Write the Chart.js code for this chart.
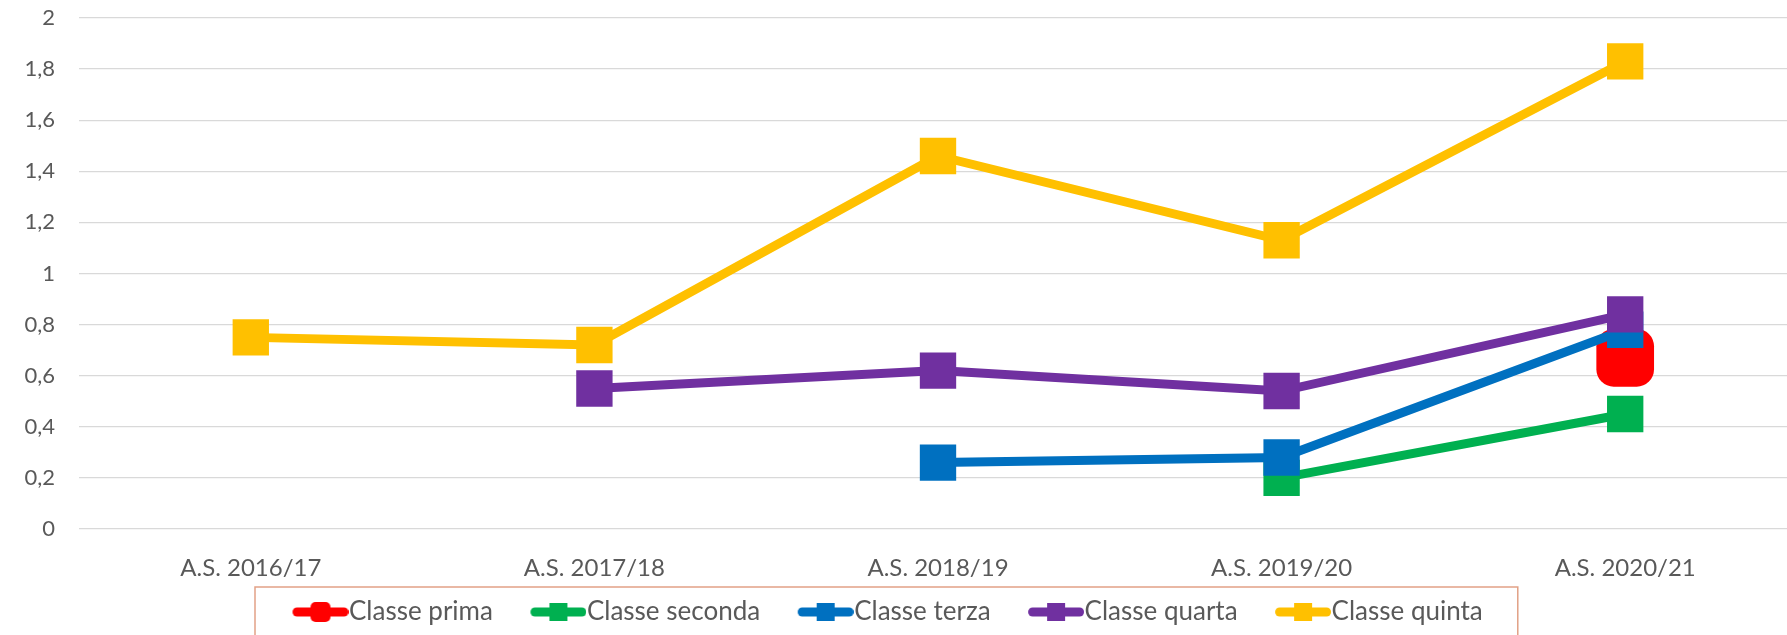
<!DOCTYPE html>
<html>
<head>
<meta charset="utf-8">
<script src="https://cdn.jsdelivr.net/npm/chart.js@4.4.0/dist/chart.umd.min.js"></script>
<style>
  html, body { margin: 0; padding: 0; background: #fff; overflow: hidden; }
  #chart { display: block; }
</style>
</head>
<body>
<canvas id="chart" width="1797" height="635"></canvas>
<script>
const categories = ['A.S. 2016/17', 'A.S. 2017/18', 'A.S. 2018/19', 'A.S. 2019/20', 'A.S. 2020/21'];
const classePrima = [null, null, null, null, 0.67];
const classeSeconda = [null, null, null, 0.20, 0.45];
const classeTerza = [null, null, 0.26, 0.28, 0.78];
const classeQuarta = [null, 0.55, 0.62, 0.54, 0.84];
const classeQuinta = [0.75, 0.72, 1.46, 1.13, 1.83];
const yTickLabels = ['0', '0,2', '0,4', '0,6', '0,8', '1', '1,2', '1,4', '1,6', '1,8', '2'];

const seriesNames = ['Classe prima', 'Classe seconda', 'Classe terza', 'Classe quarta', 'Classe quinta'];
const seriesColors = ['#FF0000', '#00B050', '#0070C0', '#7030A0', '#FFC000'];
const seriesValues = [classePrima, classeSeconda, classeTerza, classeQuarta, classeQuinta];

// legend symbol: line with marker, drawn at the right of a wider transparent canvas
function legendSymbol(color, rounded) {
  const c = document.createElement('canvas');
  c.width = 96; c.height = 24;
  const g = c.getContext('2d');
  g.strokeStyle = color;
  g.fillStyle = color;
  g.lineWidth = 9;
  g.lineCap = 'round';
  g.beginPath();
  g.moveTo(44.5, 12); g.lineTo(91.5, 12);
  g.stroke();
  g.beginPath();
  if (rounded) g.roundRect(58, 2, 20, 20, 5);
  else g.rect(59, 3, 18, 18);
  g.fill();
  return c;
}
const symbols = seriesColors.map((c, i) => legendSymbol(c, i === 0));

const legendFrame = {
  id: 'legendFrame',
  afterLayout(chart) {
    chart.legend.left = 255;
  },
  afterDraw(chart) {
    const lg = chart.legend;
    const ctx = chart.ctx;
    const right = lg.left + lg.lineWidths[0] + 35;
    ctx.save();
    ctx.strokeStyle = '#E2A186';
    ctx.lineWidth = 1.5;
    ctx.strokeRect(lg.left, lg.top - 2, right - lg.left, 80);
    ctx.restore();
  }
};

new Chart(document.getElementById('chart'), {
  type: 'line',
  data: {
    labels: categories,
    datasets: seriesValues.map((vals, i) => ({
      label: seriesNames[i],
      data: vals,
      borderColor: seriesColors[i],
      backgroundColor: seriesColors[i],
      borderWidth: 9,
      tension: 0,
      fill: false,
      clip: false,
      pointStyle: i === 0 ? 'rectRounded' : 'rect',
      pointRadius: i === 0 ? 33.6 : 25.7,
      pointBorderWidth: 0,
      pointBackgroundColor: seriesColors[i],
      order: 5 - i
    }))
  },
  options: {
    responsive: false,
    animation: false,
    layout: { autoPadding: false, padding: { top: 18, left: 0, right: 0, bottom: 0 } },
    plugins: {
      tooltip: { enabled: false },
      legend: {
        position: 'bottom',
        align: 'start',
        labels: {
          usePointStyle: true,
          pointStyleWidth: 71,
          padding: 10,
          color: '#595959',
          font: { family: 'Lato', size: 26 },
          sort: (a, b) => a.datasetIndex - b.datasetIndex,
          generateLabels(chart) {
            const items = Chart.defaults.plugins.legend.labels.generateLabels(chart);
            items.forEach(it => { it.pointStyle = symbols[it.datasetIndex]; });
            return items;
          }
        }
      }
    },
    scales: {
      x: {
        offset: true,
        grid: { display: false },
        border: { display: false },
        ticks: { padding: 17, color: '#595959', font: { family: 'Lato', size: 24 }, maxRotation: 0 },
        afterFit(scale) {
          scale.height = 60;
          scale.paddingLeft = 0;
          scale.paddingRight = 0;
        }
      },
      y: {
        min: 0,
        max: 2,
        grid: { color: '#D9D9D9', lineWidth: 1.3, drawTicks: false },
        border: { display: false },
        ticks: {
          stepSize: 0.2,
          padding: 24,
          color: '#595959',
          font: { family: 'Lato', size: 22 },
          callback: (v, i) => yTickLabels[i]
        },
        afterFit(scale) {
          scale.width = 79;
          scale.paddingTop = 0;
          scale.paddingBottom = 0;
        }
      }
    }
  },
  plugins: [legendFrame]
});
</script>
</body>
</html>
